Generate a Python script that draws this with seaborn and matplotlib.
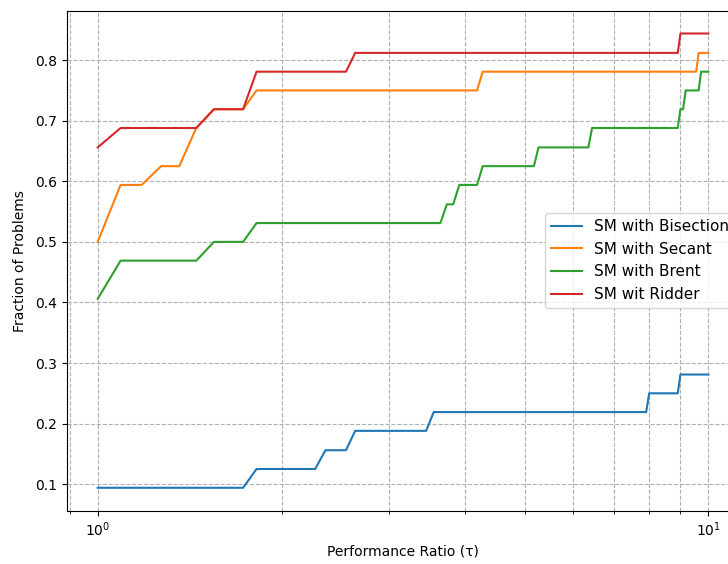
import pandas as pd
import matplotlib
matplotlib.use("Agg")
import matplotlib.pyplot as plt
import seaborn as sns

# corner points of each performance profile (tau, fraction of problems)
labels = ["SM with Bisection", "SM with Secant", "SM with Brent", "SM wit Ridder"]

tau_bisection = [1.00, 1.73, 1.82, 2.27, 2.36, 2.55, 2.64, 3.45, 3.55, 7.91, 8.00, 8.91, 9.00, 10.00]
rho_bisection = [0.094, 0.094, 0.125, 0.125, 0.156, 0.156, 0.188, 0.188, 0.219, 0.219, 0.25, 0.25, 0.281, 0.281]

tau_secant = [1.00, 1.09, 1.18, 1.27, 1.36, 1.45, 1.55, 1.73, 1.82, 4.18, 4.27, 9.55, 9.64, 10.00]
rho_secant = [0.5, 0.594, 0.594, 0.625, 0.625, 0.688, 0.719, 0.719, 0.75, 0.75, 0.781, 0.781, 0.812, 0.812]

tau_brent = [1.00, 1.09, 1.45, 1.55, 1.73, 1.82, 3.64, 3.73, 3.82, 3.91, 4.18, 4.27,
             5.18, 5.27, 6.36, 6.45, 8.91, 9.00, 9.09, 9.18, 9.64, 9.73, 10.00]
rho_brent = [0.406, 0.469, 0.469, 0.5, 0.5, 0.531, 0.531, 0.562, 0.562, 0.594, 0.594, 0.625,
             0.625, 0.656, 0.656, 0.688, 0.688, 0.719, 0.719, 0.75, 0.75, 0.781, 0.781]

tau_ridder = [1.00, 1.09, 1.45, 1.55, 1.73, 1.82, 2.55, 2.64, 8.91, 9.00, 10.00]
rho_ridder = [0.656, 0.688, 0.688, 0.719, 0.719, 0.781, 0.781, 0.812, 0.812, 0.844, 0.844]

taus = [tau_bisection, tau_secant, tau_brent, tau_ridder]
rhos = [rho_bisection, rho_secant, rho_brent, rho_ridder]

frames = []
for lab, t, r in zip(labels, taus, rhos):
    frames.append(pd.DataFrame({"tau": t, "rho": r, "solver": lab}))
df = pd.concat(frames, ignore_index=True)

fig = plt.figure(figsize=(7.28, 5.64), dpi=100)
# the original figure was cropped on the right, so the axes run past the edge
ax = fig.add_axes([67.2 / 728, 53.5 / 564, 671.7 / 728, 499.7 / 564])
ax.set_xscale("log")

sns.lineplot(data=df, x="tau", y="rho", hue="solver", hue_order=labels,
             palette=["#1f77b4", "#ff7f0e", "#2ca02c", "#d62728"],
             estimator=None, sort=False, linewidth=1.5, ax=ax)

ax.set_xlabel("Performance Ratio (τ)")
ax.set_ylabel("Fraction of Problems", labelpad=6)
ax.grid(True, which="both", linestyle="--")
ax.legend(loc="center right", fontsize=11, bbox_to_anchor=(1.006, 0.5))

fig.savefig("out.png", dpi=100)
